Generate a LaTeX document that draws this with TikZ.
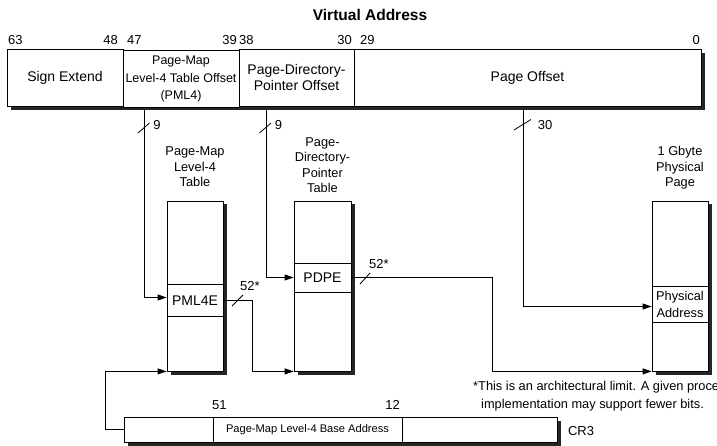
\documentclass[tikz,border=0pt]{standalone}
\usepackage{fontspec}
\setmainfont{Liberation Sans}
\usetikzlibrary{arrows.meta}

\tikzset{
  field/.style={draw, fill=white, line width=0.8pt, inner sep=0pt, minimum height=57pt,
    align=center, font=\fontsize{14}{16.5}\selectfont},
  tbl/.style={draw, fill=white, line width=0.8pt, inner sep=0pt, minimum height=170pt},
  entry/.style={draw, fill=white, line width=0.8pt, inner sep=0pt, align=center,
    font=\fontsize{14}{17}\selectfont},
  tbltitle/.style={align=center, inner sep=0pt, font=\fontsize{12.8}{15.5}\selectfont},
  bitno/.style={inner sep=0pt, font=\fontsize{13}{15}\selectfont},
  notetext/.style={inner sep=0pt, font=\fontsize{12.8}{15}\selectfont},
  shadowfill/.style={fill=black!85},
  arr/.style={line width=0.8pt, -{Triangle[length=9pt,width=6pt]}},
  slash/.style={line width=0.8pt},
}

\begin{document}
\begin{tikzpicture}[x=1pt, y=-1pt]
\useasboundingbox (0,0) rectangle (717,446);

%--- VIRTUAL ADDRESS ---
\node[font=\bfseries\fontsize{15.5}{18}\selectfont] (title) at (370,15) {Virtual Address};
\fill[shadowfill] (11,53) rectangle (705,110);
\node[field, minimum width=116pt] (sign) at (65,77.5) {Sign Extend};
\node[field, minimum width=116pt, font=\fontsize{12.5}{17.5}\selectfont] (pml4off) at (181,79)
  {Page-Map\\Level-4 Table Offset\\(PML4)};
\node[field, minimum width=115pt] (pdpoff) at (296.5,77.5) {Page-Directory-\\Pointer Offset};
\node[field, minimum width=347pt] (pgoff) at (527.5,77.5) {Page Offset};

% bit numbers
\node[bitno, anchor=west] (b63) at (8,40) {63};
\node[bitno, anchor=east] (b48) at (118,40) {48};
\node[bitno, anchor=west] (b47) at (127,40) {47};
\node[bitno, anchor=east] (b39) at (237,40) {39};
\node[bitno, anchor=west] (b38) at (239,40) {38};
\node[bitno, anchor=east] (b30) at (352,40) {30};
\node[bitno, anchor=west] (b29) at (360,40) {29};
\node[bitno, anchor=east] (b0) at (700,40) {0};

%--- PAGE-MAP LEVEL-4 TABLE ---
\node[tbltitle] (pmltitle) at (195,167) {Page-Map\\Level-4\\Table};
\fill[shadowfill] (170.5,204.5) rectangle (226.5,374.5);
\node[tbl, minimum width=56pt] (pmltab) at (195,286) {};
\node[entry, minimum width=56pt, minimum height=32.5pt] (pml4e) at (195,300.5) {PML4E};

%--- PAGE-DIRECTORY-POINTER TABLE ---
\node[tbltitle] (pdptitle) at (322.5,165) {Page-\\Directory-\\Pointer\\Table};
\fill[shadowfill] (297.5,204.5) rectangle (354.5,374.5);
\node[tbl, minimum width=57pt] (pdptab) at (322.5,286) {};
\node[entry, minimum width=57pt, minimum height=29pt] (pdpe) at (322.5,277.5) {PDPE};

%--- 1 GBYTE PHYSICAL PAGE ---
\node[tbltitle] (pgtitle) at (680,168) {1 Gbyte\\Physical\\Page};
\fill[shadowfill] (655.5,204.5) rectangle (711.5,374.5);
\node[tbl, minimum width=56pt] (pgtab) at (680,286) {};
\node[entry, minimum width=56pt, minimum height=35.5pt, font=\fontsize{12.8}{17}\selectfont]
  (physaddr) at (680,304.5) {Physical\\Address};

%--- CR3 ---
\fill[shadowfill] (127.5,420.5) rectangle (560.5,446);
\node[entry, minimum width=89pt, minimum height=25pt] (cr3lo) at (168.5,429.5) {};
\node[entry, minimum width=189pt, minimum height=25pt, font=\fontsize{11.1}{13}\selectfont]
  (cr3base) at (307.5,429.5) {Page-Map Level-4 Base Address};
\node[entry, minimum width=155pt, minimum height=25pt] (cr3hi) at (479.5,429.5) {};
\node[bitno, anchor=west] (b51) at (212,405) {51};
\node[bitno, anchor=east] (b12) at (400,405) {12};
\node[inner sep=0pt, font=\fontsize{13}{15}\selectfont] (cr3) at (581,431) {CR3};

%--- CONNECTORS ---
\coordinate (t1) at (144,110);
\coordinate (t2) at (266.5,110);
\coordinate (t3) at (523,110);
\draw[arr] (t1) |- ([yshift=3pt]pml4e.west);
\draw[arr] (t2) |- (pdpe.west);
\draw[arr] (t3) |- ([yshift=-2pt]physaddr.west);
\draw[arr] (pml4e.east) -- ++(29,0) |- (pdptab.south west);
\draw[arr] (pdpe.east) -- ++(141,0) |- (pgtab.south west);
\draw[arr] (cr3lo.west) -- ++(-18,0) |- (pmltab.south west);

% width marks
\draw[slash] (138,133) -- (149.5,123);
\node[bitno] (w1) at (157,125) {9};
\draw[slash] (259.5,133) -- (271,123);
\node[bitno] (w2) at (278.5,125) {9};
\draw[slash] (514,130) -- (531,119.5);
\node[bitno] (w3) at (545,125) {30};
\draw[slash] (232,306) -- (243,295);
\node[bitno] (w4) at (250,286) {52*};
\draw[slash] (360,284) -- (370,273);
\node[bitno] (w5) at (379,264) {52*};

%--- NOTE ---
\node[notetext, anchor=west] (note1) at (473,387) {*This is an architectural limit. A given processor};
\node[notetext, anchor=west] (note2) at (481,405) {implementation may support fewer bits.};
\end{tikzpicture}
\end{document}
